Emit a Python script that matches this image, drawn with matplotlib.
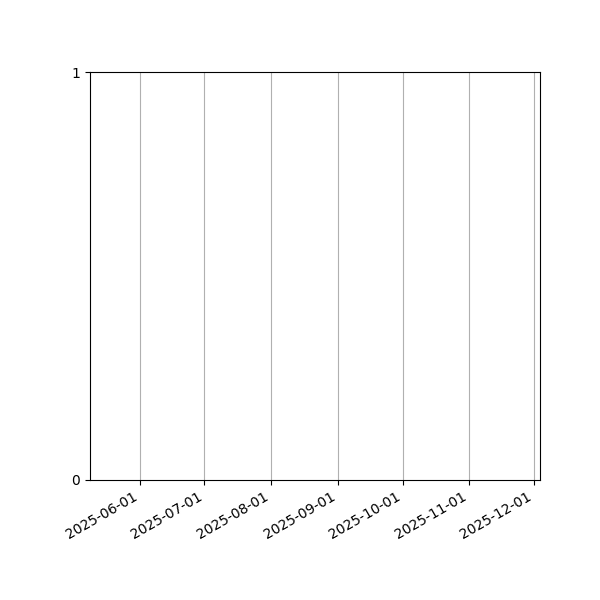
import matplotlib
matplotlib.use('Agg')
import matplotlib.pyplot as plt
import matplotlib.dates as mdates
import numpy as np

# the chart shows no marks: an empty series on a date axis
dates = np.array([], dtype='datetime64[D]')
values = np.array([], dtype=float)

x_start = np.datetime64('2025-05-08T20:00')
x_end = np.datetime64('2025-12-03T20:00')
y_ticks = [0, 1]

fig, ax = plt.subplots(figsize=(6, 6), dpi=100)
ax.plot(dates, values)
ax.set_xlim(x_start, x_end)
ax.set_ylim(0, 1)
ax.set_yticks(y_ticks)
ax.xaxis.set_major_locator(mdates.MonthLocator())
ax.xaxis.set_major_formatter(mdates.DateFormatter('%Y-%m-%d'))
ax.grid(axis='x', color='#b0b0b0', linewidth=0.8)
fig.autofmt_xdate()
fig.subplots_adjust(left=0.15, right=0.9, top=0.88, bottom=0.2)
plt.savefig('out.png', dpi=100)
